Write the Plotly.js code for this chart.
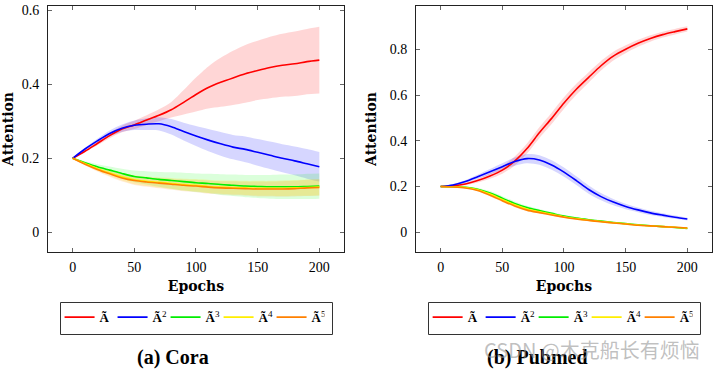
<!DOCTYPE html>
<html>
<head>
<meta charset="utf-8">
<script src="https://cdn.plot.ly/plotly-3.0.1.min.js"></script>
<style>html,body{margin:0;padding:0;background:#fff;}#chart{width:714px;height:369px;}</style>
</head>
<body>
<div id="chart"></div>
<script>
// ---- data ----
const epochs = [0,10,20,30,40,50,60,70,80,90,100,110,120,130,140,150,160,170,180,190,200];
const seriesNames = ["<b>Ã</b>", "<b>Ã</b><sup>2</sup>", "<b>Ã</b><sup>3</sup>", "<b>Ã</b><sup>4</sup>", "<b>Ã</b><sup>5</sup>"];
const seriesColors = ["#ff0000", "#0000ff", "#00ee00", "#ffee00", "#ff8000"];
const bandColors = ["rgba(255,0,0,0.16)", "rgba(0,0,255,0.16)", "rgba(0,255,0,0.14)", "rgba(255,235,0,0.2)", "rgba(255,128,0,0.14)"];

// Cora
const coraA1 = [0.200,0.219,0.240,0.261,0.279,0.290,0.303,0.316,0.331,0.351,0.372,0.391,0.405,0.417,0.428,0.437,0.445,0.451,0.455,0.461,0.465];
const coraA1Std = [0.000,0.003,0.005,0.007,0.009,0.011,0.013,0.016,0.021,0.033,0.046,0.057,0.066,0.073,0.078,0.080,0.083,0.085,0.087,0.088,0.090];
const coraA2 = [0.200,0.225,0.247,0.267,0.281,0.289,0.292,0.293,0.285,0.272,0.260,0.249,0.239,0.230,0.224,0.216,0.208,0.200,0.193,0.185,0.177];
const coraA2Std = [0.000,0.003,0.006,0.008,0.010,0.013,0.016,0.018,0.021,0.024,0.027,0.030,0.032,0.033,0.035,0.036,0.037,0.038,0.039,0.040,0.040];
const coraA3 = [0.200,0.188,0.177,0.168,0.159,0.151,0.147,0.143,0.140,0.137,0.134,0.132,0.129,0.127,0.125,0.124,0.123,0.123,0.123,0.124,0.125];
const coraA3Std = [0.000,0.004,0.007,0.010,0.013,0.016,0.018,0.020,0.022,0.024,0.025,0.026,0.028,0.029,0.030,0.031,0.032,0.033,0.033,0.034,0.034];
const coraA4 = [0.200,0.186,0.172,0.160,0.150,0.142,0.138,0.135,0.132,0.129,0.127,0.124,0.122,0.121,0.120,0.119,0.119,0.119,0.120,0.121,0.122];
const coraA4Std = [0.000,0.003,0.006,0.008,0.010,0.012,0.013,0.014,0.015,0.016,0.017,0.018,0.018,0.019,0.019,0.020,0.020,0.021,0.021,0.022,0.022];
const coraA5 = [0.200,0.184,0.170,0.158,0.147,0.140,0.136,0.133,0.130,0.127,0.125,0.122,0.120,0.119,0.118,0.117,0.117,0.117,0.118,0.120,0.121];
const coraA5Std = [0.000,0.003,0.006,0.008,0.010,0.012,0.013,0.014,0.015,0.016,0.017,0.018,0.018,0.019,0.019,0.020,0.020,0.021,0.021,0.022,0.022];

// Pubmed
const pubA1 = [0.200,0.203,0.211,0.226,0.246,0.272,0.311,0.366,0.435,0.498,0.565,0.625,0.677,0.728,0.770,0.800,0.826,0.847,0.864,0.877,0.889];
const pubA1Std = [0.002,0.003,0.005,0.008,0.012,0.016,0.020,0.022,0.024,0.025,0.025,0.024,0.023,0.021,0.019,0.017,0.015,0.014,0.013,0.012,0.011];
const pubA2 = [0.200,0.207,0.222,0.243,0.265,0.287,0.309,0.322,0.316,0.294,0.263,0.226,0.187,0.156,0.132,0.113,0.098,0.085,0.075,0.066,0.058];
const pubA2Std = [0.002,0.004,0.006,0.009,0.012,0.015,0.018,0.020,0.021,0.021,0.020,0.019,0.018,0.016,0.014,0.012,0.010,0.009,0.008,0.007,0.006];
const pubA3 = [0.200,0.199,0.197,0.188,0.172,0.149,0.126,0.108,0.095,0.083,0.071,0.062,0.055,0.049,0.043,0.038,0.033,0.029,0.025,0.021,0.017];
const pubA3Std = [0.001,0.002,0.004,0.006,0.008,0.009,0.009,0.008,0.007,0.006,0.005,0.005,0.004,0.004,0.003,0.003,0.003,0.003,0.002,0.002,0.002];
const pubA4 = [0.200,0.199,0.196,0.186,0.167,0.143,0.120,0.102,0.090,0.079,0.068,0.060,0.053,0.047,0.042,0.037,0.032,0.028,0.025,0.022,0.018];
const pubA4Std = [0.001,0.002,0.003,0.004,0.005,0.005,0.005,0.005,0.004,0.004,0.004,0.003,0.003,0.003,0.003,0.002,0.002,0.002,0.002,0.002,0.002];
const pubA5 = [0.200,0.198,0.194,0.183,0.162,0.138,0.115,0.097,0.086,0.076,0.066,0.058,0.052,0.046,0.041,0.036,0.031,0.028,0.025,0.022,0.019];
const pubA5Std = [0.001,0.002,0.003,0.004,0.005,0.005,0.005,0.005,0.004,0.004,0.004,0.003,0.003,0.003,0.003,0.002,0.002,0.002,0.002,0.002,0.002];

const coraMeans = [coraA1, coraA2, coraA3, coraA4, coraA5];
const coraStds = [coraA1Std, coraA2Std, coraA3Std, coraA4Std, coraA5Std];
const pubMeans = [pubA1, pubA2, pubA3, pubA4, pubA5];
const pubStds = [pubA1Std, pubA2Std, pubA3Std, pubA4Std, pubA5Std];

// ---- traces ----
function buildTraces(means, stds, xa, ya, legendId) {
  const bands = [], lines = [];
  means.forEach((m, i) => {
    const upper = m.map((v, k) => v + stds[i][k]);
    const lower = m.map((v, k) => v - stds[i][k]);
    bands.push({
      x: epochs, y: lower, xaxis: xa, yaxis: ya, type: 'scatter', mode: 'lines',
      line: {width: 0, shape: 'spline', smoothing: 0.8, color: 'rgba(0,0,0,0)'},
      hoverinfo: 'skip', showlegend: false
    });
    bands.push({
      x: epochs, y: upper, xaxis: xa, yaxis: ya, type: 'scatter', mode: 'lines',
      fill: 'tonexty', fillcolor: bandColors[i],
      line: {width: 0, shape: 'spline', smoothing: 0.8, color: 'rgba(0,0,0,0)'},
      hoverinfo: 'skip', showlegend: false
    });
  });
  means.forEach((m, i) => {
    lines.push({
      x: epochs, y: m, xaxis: xa, yaxis: ya, type: 'scatter', mode: 'lines',
      name: seriesNames[i], legend: legendId,
      line: {color: seriesColors[i], width: 1.6, shape: 'spline', smoothing: 0.8}
    });
  });
  return bands.concat(lines);
}

const traces = buildTraces(coraMeans, coraStds, 'x', 'y', 'legend')
  .concat(buildTraces(pubMeans, pubStds, 'x2', 'y2', 'legend2'));

const tickFont = {family: 'Liberation Serif, serif', size: 14, color: '#000'};
const titleFont = {family: 'DejaVu Serif, serif', size: 14, color: '#000', weight: 'bold'};

function xAxis(domain, anchor) {
  return {
    domain: domain, anchor: anchor, range: [-20, 220],
    tickvals: [0, 50, 100, 150, 200], ticks: 'inside', ticklen: 4, tickcolor: '#666',
    showline: true, linecolor: '#222', linewidth: 1, mirror: 'ticks',
    showgrid: false, zeroline: false, tickfont: tickFont, ticklabelstandoff: 2,
    title: {text: '<b>Epochs</b>', font: titleFont, standoff: 7}
  };
}
function yAxis(range, tickvals, anchor, standoff) {
  return {
    domain: [0.3171, 0.9837], anchor: anchor, range: range,
    tickvals: tickvals, ticks: 'inside', ticklen: 4, tickcolor: '#666',
    showline: true, linecolor: '#222', linewidth: 1, mirror: 'ticks',
    showgrid: false, zeroline: false, tickfont: tickFont, ticklabelstandoff: 5,
    title: {text: '<b>Attention</b>', font: titleFont, standoff: standoff}
  };
}

const legendBase = {
  orientation: 'h', yanchor: 'top', xanchor: 'center', y: 0.181,
  bgcolor: 'rgba(0,0,0,0)', borderwidth: 0,
  font: {family: 'Liberation Serif, serif', size: 13, color: '#000'},
  itemwidth: 30, tracegroupgap: 0, traceorder: 'normal',
  entrywidth: 8, entrywidthmode: 'pixels'
};

// legend frames (pixel rectangles converted to paper fractions)
function frame(x0, x1, y0, y1) {
  return {type: 'rect', xref: 'paper', yref: 'paper',
    x0: x0 / 714, x1: x1 / 714, y0: 1 - y1 / 369, y1: 1 - y0 / 369,
    line: {color: '#333', width: 1}, fillcolor: 'rgba(0,0,0,0)', layer: 'above'};
}

const layout = {
  width: 714, height: 369,
  margin: {l: 0, r: 0, t: 0, b: 0},
  paper_bgcolor: '#fff', plot_bgcolor: '#fff',
  showlegend: true,
  xaxis: xAxis([0.0672, 0.4818], 'y'),
  yaxis: yAxis([-0.053, 0.611], [0, 0.2, 0.4, 0.6], 'x', 9),
  xaxis2: xAxis([0.5826, 0.9972], 'y2'),
  yaxis2: yAxis([-0.086, 0.989], [0, 0.2, 0.4, 0.6, 0.8], 'x2', 9),
  legend: Object.assign({}, legendBase, {x: 0.2690}),
  legend2: Object.assign({}, legendBase, {x: 0.7845}),
  shapes: [frame(60.5, 332.5, 302.5, 334.5), frame(428.5, 700.5, 302.5, 334.5)],
  annotations: [
    {text: '<b>(a) Cora</b>', xref: 'paper', yref: 'paper', x: 0.2423, y: 0.03, xanchor: 'center', yanchor: 'middle', showarrow: false,
     font: {family: 'Liberation Serif, serif', size: 20, color: '#000'}},
    {text: '<b>(b) Pubmed</b>', xref: 'paper', yref: 'paper', x: 0.7535, y: 0.03, xanchor: 'center', yanchor: 'middle', showarrow: false,
     font: {family: 'Liberation Serif, serif', size: 20, color: '#000'}},
    {text: 'CSDN @木克船长有烦恼', xref: 'paper', yref: 'paper', x: 0.829, y: 0.052, xanchor: 'center', yanchor: 'middle', showarrow: false,
     font: {family: 'Noto Sans CJK SC, sans-serif', size: 20, color: 'rgba(150,150,150,0.6)'}}
  ]
};

Plotly.newPlot('chart', traces, layout, {staticPlot: true, displayModeBar: false});
</script>
</body>
</html>
